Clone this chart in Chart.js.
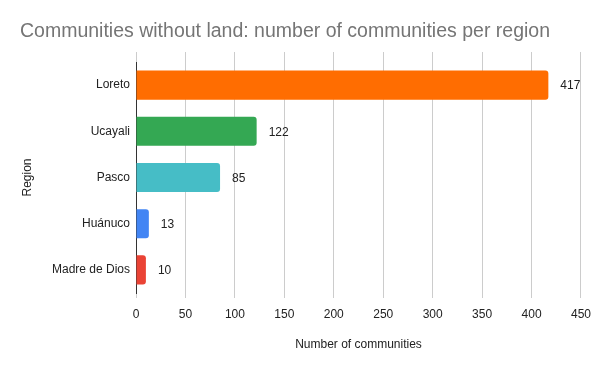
<!DOCTYPE html>
<html>
<head>
<meta charset="utf-8">
<script src="https://cdn.jsdelivr.net/npm/chart.js@4"></script>
<style>
  html, body { margin: 0; padding: 0; background: #fff; }
  #wrap { width: 600px; height: 371px; }
</style>
</head>
<body>
<div id="wrap"><canvas id="chart"></canvas></div>
<script>
// ── Data ────────────────────────────────────────────
const regions = ['Loreto', 'Ucayali', 'Pasco', 'Huánuco', 'Madre de Dios'];
const counts  = [417, 122, 85, 13, 10];
const barColors = ['#ff6d01', '#34a853', '#46bdc6', '#4285f4', '#ea4335'];
const xTicks = [0, 50, 100, 150, 200, 250, 300, 350, 400, 450];

const FONT = '"Liberation Sans", Arial, sans-serif';
Chart.defaults.font.family = FONT;
Chart.defaults.color = '#222';

// value labels to the right of each bar
const valueLabels = {
    id: 'valueLabels',
    afterDatasetsDraw(chart) {
        const ctx = chart.ctx;
        const meta = chart.getDatasetMeta(0);
        ctx.save();
        ctx.font = '12px ' + FONT;
        ctx.fillStyle = '#222';
        ctx.textBaseline = 'middle';
        ctx.textAlign = 'left';
        meta.data.forEach((bar, i) => {
            ctx.fillText(String(counts[i]), bar.x + 12, bar.y + 1);
        });
        ctx.restore();
    }
};

new Chart(document.getElementById('chart'), {
    type: 'bar',
    data: {
        labels: regions,
        datasets: [{
            data: counts,
            backgroundColor: barColors,
            borderRadius: { topRight: 3, bottomRight: 3 },
            borderSkipped: 'left',
            barPercentage: 0.9,
            categoryPercentage: 0.7
        }]
    },
    options: {
        indexAxis: 'y',
        responsive: true,
        maintainAspectRatio: false,
        animation: false,
        layout: { padding: { left: 20, right: 15, top: 0, bottom: 0 } },
        plugins: {
            legend: { display: false },
            tooltip: { enabled: false },
            title: {
                display: true,
                text: 'Communities without land: number of communities per region',
                align: 'start',
                color: '#757575',
                font: { size: 19.5, weight: 'normal' },
                padding: { top: 20, bottom: 8.6 }
            }
        },
        scales: {
            x: {
                min: 0,
                max: 450,
                afterBuildTicks: axis => { axis.ticks = xTicks.map(v => ({ value: v })); },
                afterFit: axis => { axis.height = 78; },
                grid: { color: '#cccccc', tickLength: 5 },
                border: { display: false },
                ticks: { padding: 9, font: { size: 12 }, color: '#222' },
                title: {
                    display: true,
                    text: 'Number of communities',
                    font: { size: 12 },
                    color: '#222',
                    padding: { top: 0, bottom: 19 }
                }
            },
            x2: {
                position: 'top',
                min: 0,
                max: 450,
                afterBuildTicks: axis => { axis.ticks = xTicks.map(v => ({ value: v })); },
                afterFit: axis => { axis.height = 10; },
                grid: { color: '#cccccc', tickLength: 10 },
                border: { display: false },
                ticks: { display: false }
            },
            y: {
                afterFit: axis => { axis.width = 116; },
                grid: { display: false, drawTicks: false },
                border: { display: true, color: '#333333', width: 1 },
                ticks: { padding: 6, font: { size: 12 }, color: '#222' },
                title: {
                    display: true,
                    text: 'Region',
                    font: { size: 12 },
                    color: '#222',
                    padding: { top: 0, bottom: 0 }
                }
            }
        }
    },
    plugins: [valueLabels]
});
</script>
</body>
</html>
